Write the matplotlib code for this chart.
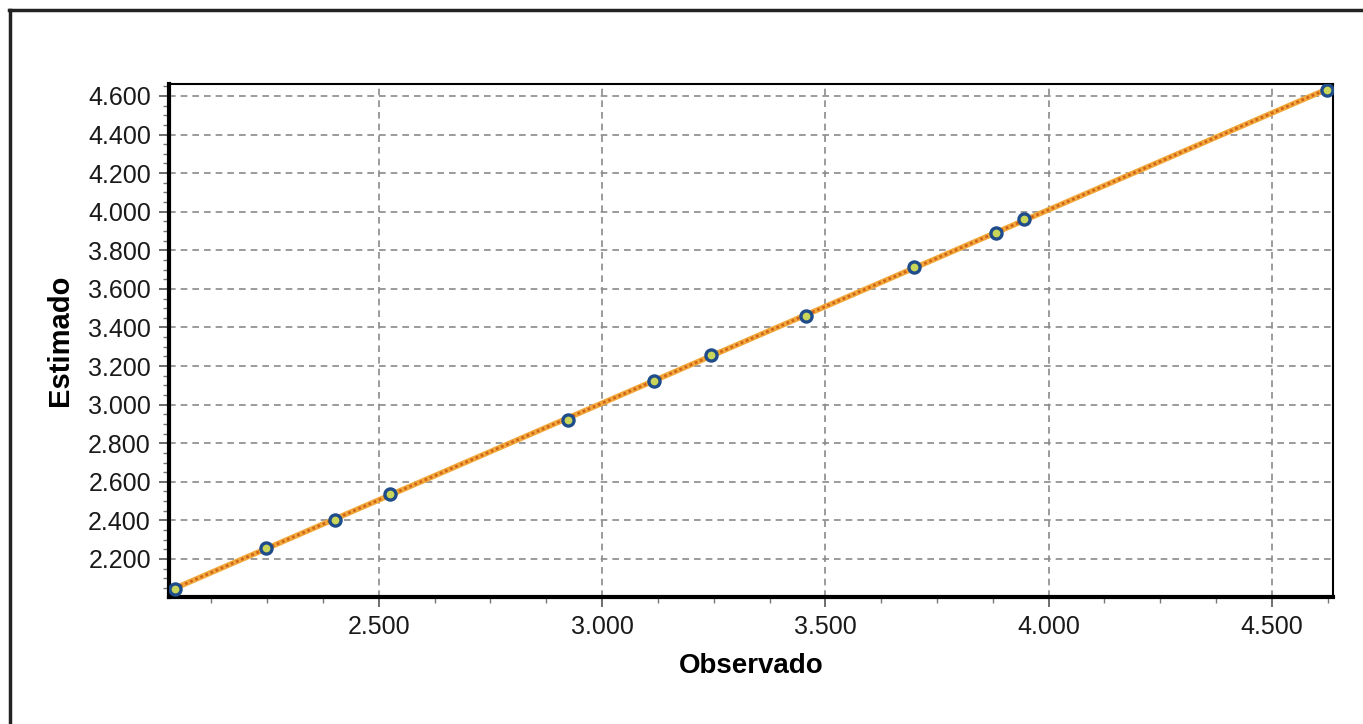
import numpy as np
import matplotlib
matplotlib.use("Agg")
import matplotlib.pyplot as plt
from matplotlib.ticker import MultipleLocator, FuncFormatter
from matplotlib.lines import Line2D

# ==========================
# Data
# ==========================

observado = [2.043, 2.247, 2.401, 2.525, 2.923, 3.116, 3.244, 3.456, 3.698, 3.882, 3.945, 4.623]
estimado = [2.044, 2.257, 2.403, 2.538, 2.922, 3.125, 3.255, 3.462, 3.712, 3.888, 3.961, 4.631]

X_LIM = (2.030, 4.637)
Y_LIM = (2.003, 4.662)

plt.rcParams['font.family'] = ['Liberation Sans', 'DejaVu Sans']

fig = plt.figure(figsize=(13.63, 7.24), dpi=100)
ax = fig.add_axes([169 / 1363, 1 - 597 / 724, (1333 - 169) / 1363, (597 - 84) / 724])

# regression line through the points
x = np.array(observado)
y = np.array(estimado)
b, a = np.polyfit(x, y, 1)
xl = np.array([x.min(), x.max()])
ax.plot(xl, a + b * xl, color='#F2A93B', lw=4, solid_capstyle='butt', zorder=3)
ax.plot(xl, a + b * xl, color='#D0641A', lw=2, ls=(0, (1, 1)), zorder=4)

ax.plot(x, y, ls='none', marker='o', ms=8, mfc='#C9D65A', mec='#1F4C8A', mew=2.4, zorder=5)

ax.set_xlim(*X_LIM)
ax.set_ylim(*Y_LIM)

ax.xaxis.set_major_locator(MultipleLocator(0.5))
ax.xaxis.set_minor_locator(MultipleLocator(0.125))
ax.yaxis.set_major_locator(MultipleLocator(0.2))
ax.yaxis.set_minor_locator(MultipleLocator(0.05))
fmt = FuncFormatter(lambda v, p: f"{v:.3f}")
ax.xaxis.set_major_formatter(fmt)
ax.yaxis.set_major_formatter(fmt)

ax.tick_params(axis='both', which='major', labelsize=18, length=7, width=1.2,
               color='#555555', labelcolor='#1a1a1a')
ax.tick_params(axis='y', which='major', pad=6)
ax.tick_params(axis='x', which='major', pad=6)
ax.tick_params(axis='both', which='minor', length=4, width=1, color='#777777')

ax.grid(True, which='major', ls=(0, (4, 3)), color='#8a8a8a', lw=1.2)
ax.set_axisbelow(True)

ax.spines['left'].set_linewidth(3)
ax.spines['bottom'].set_linewidth(3)
ax.spines['top'].set_linewidth(1.5)
ax.spines['right'].set_linewidth(1.5)

ax.set_xlabel("Observado", fontsize=20, fontweight='bold', labelpad=10)
ax.set_ylabel("Estimado", fontsize=21, fontweight='bold', labelpad=10)

# outer frame (top and left edges visible)
fig.add_artist(Line2D([9 / 1363, 1.0], [1 - 10 / 724, 1 - 10 / 724], color='#222222', lw=2.5,
                      transform=fig.transFigure))
fig.add_artist(Line2D([10 / 1363, 10 / 1363], [0.0, 1 - 10 / 724], color='#222222', lw=2.5,
                      transform=fig.transFigure))

fig.savefig("out.png", dpi=100)
